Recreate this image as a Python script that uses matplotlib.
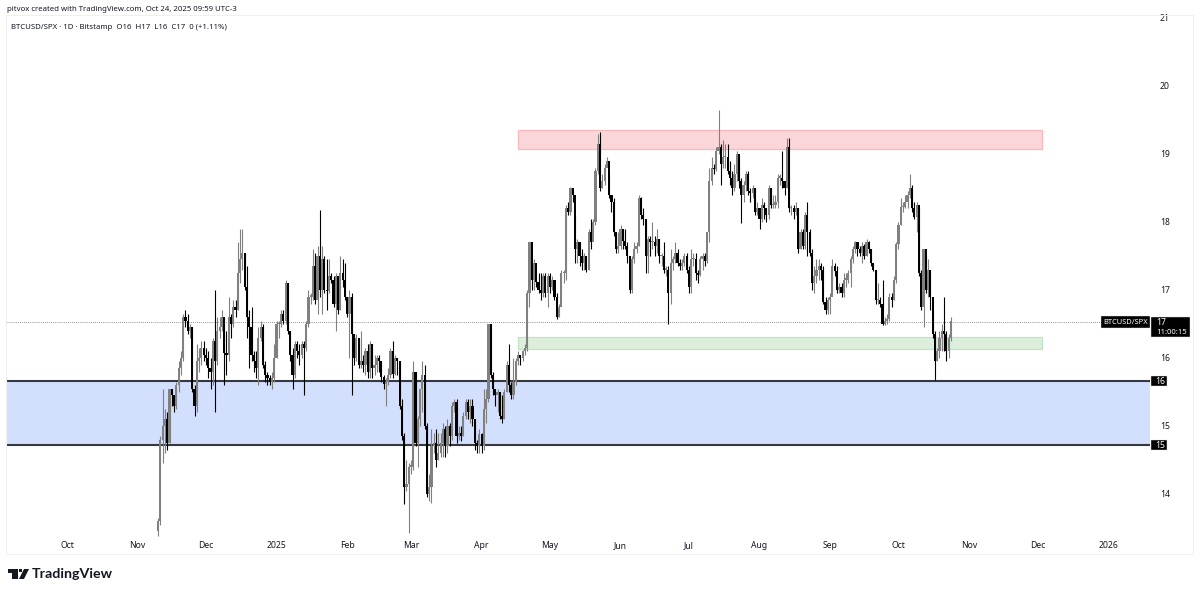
import matplotlib
matplotlib.use("Agg")
import matplotlib.pyplot as plt
import matplotlib.dates as mdates
from matplotlib.patches import Rectangle, Polygon
import pandas as pd

W, H = 1200, 594
START_DATE = "2024-11-10"
FIRST_OPEN = 13.45

closes = [
 13.6,14.8,15.0,15.1,14.75,15.55,15.45,15.3,15.6,15.85,
 16.0,16.6,16.55,16.4,16.45,15.55,15.3,15.95,16.0,16.15,
 16.05,16.0,15.85,15.8,16.25,15.95,16.4,16.45,16.6,16.08,16.05,
 16.6,16.5,16.75,16.7,17.25,17.45,17.55,17.05,16.6,16.45,
 16.05,15.95,15.85,16.3,16.45,15.9,15.75,15.7,15.65,15.7,
 16.0,16.5,16.5,16.65,16.55,17.1,16.4,16.05,15.75,16.2,
 16.1,16.05,16.2,16.15,16.5,16.9,16.9,17.35,16.85,17.5,
 17.0,17.45,17.0,16.98,17.2,17.15,16.8,17.2,16.7,17.25,
 17.15,16.9,16.65,16.9,16.35,16.0,16.3,15.9,15.95,15.9,
 16.1,15.8,16.2,15.85,15.9,16.0,15.95,15.72,15.62,15.65,15.75,
 16.1,15.77,16.0,15.95,15.3,14.85,14.1,14.15,14.4,14.4,
 15.8,14.75,15.1,15.55,15.75,15.0,14.0,14.1,14.7,14.75,
 14.5,14.6,14.75,14.95,14.7,15.0,14.85,15.3,15.35,14.85,14.9,
 14.85,15.15,15.35,15.2,15.3,15.1,14.75,14.7,14.88,14.7,
 15.25,15.4,16.5,15.75,15.55,15.45,15.5,15.15,15.1,15.5,
 15.9,15.6,15.45,15.65,15.95,16.05,16.0,16.1,16.15,16.95,
 17.7,17.15,17.4,17.12,17.0,16.95,17.2,16.95,17.2,17.05,
 17.15,16.9,16.6,16.75,17.25,17.25,18.2,18.15,18.5,18.4,
 17.6,17.7,17.5,17.4,17.5,17.3,17.85,17.7,18.0,18.75,
 19.15,18.5,18.6,18.8,18.9,18.4,18.3,17.85,17.6,17.65,
 17.9,17.72,17.65,17.5,17.0,17.45,17.6,17.65,18.35,18.1,
 18.05,17.5,17.75,17.7,17.7,17.65,17.75,17.5,17.5,17.3,17.3,
 16.95,17.4,17.45,17.55,17.4,17.35,17.4,17.5,17.3,17.05,
 17.45,17.45,17.25,17.22,17.45,17.5,17.42,17.85,18.6,18.8,
 18.78,19.05,19.1,18.85,18.95,18.95,18.75,18.65,18.5,18.7,
 19.0,18.6,18.4,18.55,18.7,18.45,18.42,18.5,18.15,18.2,
 18.05,18.25,18.2,18.1,18.5,18.25,18.25,18.3,18.65,18.65,18.6,
 18.5,19.1,18.2,18.2,18.15,18.2,17.6,17.85,17.65,18.1,
 17.85,17.55,17.1,17.2,17.3,17.35,17.3,16.83,16.7,16.85,16.9,
 17.35,17.28,17.0,17.05,16.95,17.15,17.15,17.25,17.45,17.6,
 17.7,17.6,17.55,17.65,17.5,17.7,17.6,17.4,17.3,16.85,
 16.85,16.8,16.5,16.55,16.58,16.9,16.85,17.15,17.68,17.95,
 18.22,18.22,18.3,18.4,18.5,18.2,18.08,18.25,17.25,16.75,17.6,
 17.0,17.3,16.9,16.35,15.95,16.1,16.3,16.4,16.35,16.1,
 16.3,16.55,
]
highs = [
 13.65,14.85,15.55,15.25,15.2,15.55,15.55,15.45,15.65,15.95,
 16.1,16.65,16.7,16.65,16.5,16.45,15.6,16.2,16.15,16.25,
 16.25,16.15,16.1,16.0,16.3,17.0,16.6,16.6,16.7,16.6,16.4,
 16.9,16.65,16.85,16.85,17.7,17.9,17.9,17.55,17.35,16.7,
 16.75,16.1,16.1,16.45,16.55,16.5,15.95,15.8,15.75,15.8,
 16.2,16.55,16.55,16.7,16.7,17.15,17.1,16.4,16.15,16.25,
 16.25,16.2,16.25,16.25,16.55,17.0,16.95,17.6,17.55,17.65,
 18.17,17.65,17.5,17.45,17.45,17.25,17.2,17.25,17.2,17.5,
 17.45,17.4,16.8,17.0,16.95,16.35,16.35,16.3,16.4,16.05,
 16.15,16.2,16.25,16.2,16.05,16.05,16.05,15.95,15.75,15.7,15.85,
 16.15,16.25,16.05,16.0,15.95,15.4,14.9,14.5,14.45,14.5,
 15.95,15.8,15.15,15.55,15.95,15.9,15.05,14.3,14.95,14.9,
 14.95,14.9,14.9,15.05,15.0,15.1,15.05,15.35,15.4,15.4,15.0,
 15.0,15.2,15.4,15.4,15.4,15.4,15.1,14.8,14.95,14.9,
 15.55,15.55,16.5,16.5,15.8,15.55,15.55,15.5,15.45,15.55,
 15.95,16.2,15.65,16.0,16.0,16.1,16.05,16.12,16.2,17.0,
 17.7,17.45,17.45,17.25,17.25,17.25,17.25,17.25,17.25,17.25,
 17.2,17.15,16.95,16.8,17.3,17.3,18.25,18.3,18.52,18.45,
 18.1,17.75,17.7,17.6,17.55,17.5,17.9,18.05,18.05,18.8,
 19.3,19.33,18.7,18.85,18.95,18.7,18.4,18.35,17.85,17.85,
 17.95,17.9,17.9,17.7,17.5,17.5,17.7,17.7,18.4,18.37,
 18.2,18.05,17.8,17.8,18.0,17.8,17.9,17.75,17.55,17.7,17.35,
 17.35,17.6,17.5,17.7,17.6,17.45,17.45,17.55,17.55,17.35,
 17.6,17.55,17.55,17.3,17.5,17.55,17.55,17.85,18.8,18.95,
 18.85,19.1,19.65,19.15,19.2,19.15,19.15,18.9,18.75,18.85,
 19.05,19.0,18.65,18.6,18.75,18.75,18.5,18.55,18.5,18.3,
 18.2,18.35,18.3,18.2,18.55,18.5,18.4,18.4,18.7,18.7,19.05,
 18.6,19.23,19.23,18.25,18.25,18.3,18.2,17.9,17.9,18.15,
 18.3,17.9,17.6,17.35,17.45,17.45,17.4,17.35,16.9,16.9,16.95,
 17.45,17.4,17.35,17.1,17.1,17.25,17.25,17.3,17.5,17.65,
 17.72,17.7,17.65,17.7,17.68,17.75,17.72,17.6,17.4,17.3,
 17.1,16.9,17.15,16.6,16.65,16.95,16.95,17.2,17.7,18.0,
 18.35,18.3,18.4,18.45,18.7,18.55,18.3,18.3,18.2,17.3,17.6,
 17.5,17.45,17.3,16.7,16.4,16.15,16.4,16.5,16.9,16.4,
 16.35,16.6,
]
lows = [
 13.38,13.55,14.45,14.6,14.65,14.75,15.3,15.2,15.25,15.5,
 15.75,15.95,16.45,16.35,16.3,15.5,15.15,15.2,15.8,15.9,
 15.95,15.9,15.7,15.55,15.6,15.2,15.9,16.3,16.4,15.6,15.75,
 15.95,16.3,16.45,16.6,16.7,17.1,17.3,17.0,16.3,15.85,
 15.95,15.8,15.7,15.6,16.25,15.85,15.65,15.6,15.6,15.55,
 15.65,16.0,16.3,16.45,16.5,16.5,16.35,15.95,15.55,15.7,
 16.0,15.9,16.0,15.45,16.1,16.45,16.8,16.85,16.8,16.65,
 16.9,16.65,16.95,16.7,16.95,17.1,16.75,16.4,16.65,16.7,
 17.05,16.85,16.6,16.0,15.45,15.9,15.95,15.85,15.85,15.8,
 15.75,15.7,15.7,15.7,15.75,15.8,15.8,15.65,15.55,15.3,15.6,
 15.7,15.7,15.75,15.75,15.25,14.8,13.85,14.05,13.42,14.3,
 14.35,14.7,14.4,15.0,15.2,14.95,13.95,13.9,13.87,14.6,
 14.4,14.5,14.55,14.55,14.55,14.6,14.7,14.8,15.2,14.75,14.8,
 14.78,14.85,15.1,15.1,15.05,15.0,14.65,14.6,14.6,14.6,
 14.65,15.05,15.35,15.7,15.45,15.3,15.2,15.1,15.05,15.1,
 15.5,15.5,15.4,15.4,15.6,15.9,15.9,15.95,16.05,16.1,
 16.75,17.0,17.0,17.05,16.95,16.85,16.9,16.9,16.75,16.95,
 17.0,16.85,16.58,16.6,16.85,17.1,17.15,18.1,18.1,18.3,
 17.4,17.4,17.35,17.3,17.3,17.27,17.3,17.6,17.75,17.95,
 18.7,18.45,18.5,18.55,18.85,18.35,18.15,17.8,17.55,17.55,
 17.6,17.6,17.6,17.4,16.95,16.95,17.4,17.55,17.65,18.05,
 17.95,17.25,17.25,17.5,17.6,17.5,17.55,17.4,17.35,17.25,17.2,
 16.5,16.8,17.3,17.4,17.35,17.3,17.3,17.35,17.25,16.95,
 16.95,17.35,17.15,17.1,17.2,17.3,17.35,17.4,17.7,18.55,
 18.7,18.75,19.0,18.55,18.8,18.8,18.7,18.55,18.4,18.45,
 18.6,18.5,17.98,18.3,18.45,18.4,18.3,18.35,18.1,18.1,
 17.9,18.0,18.05,18.0,18.05,18.2,18.2,18.2,18.2,18.55,18.5,
 18.4,18.5,18.15,18.1,18.05,18.1,17.55,17.6,17.6,17.6,
 17.5,17.5,17.0,16.95,17.1,17.15,17.15,16.8,16.65,16.65,16.65,
 17.0,17.2,16.95,16.95,16.9,16.9,17.05,17.1,17.05,17.4,
 17.55,17.5,17.5,17.4,17.45,17.5,17.55,17.35,17.28,16.8,
 16.8,16.75,16.48,16.48,16.5,16.55,16.75,16.85,17.1,17.6,
 17.95,18.15,18.2,18.2,18.35,18.15,18.05,17.85,17.2,16.7,16.45,
 16.95,16.9,16.7,16.3,15.67,15.95,16.0,16.1,16.1,15.95,
 16.0,16.25,
]

month_ticks = ["2024-10-01","2024-11-01","2024-12-01","2025-01-01","2025-02-01","2025-03-01",
               "2025-04-01","2025-05-01","2025-06-01","2025-07-01","2025-08-01","2025-09-01",
               "2025-10-01","2025-11-01","2025-12-01","2026-01-01"]
month_labels = ["Oct","Nov","Dec","2025","Feb","Mar","Apr","May","Jun","Jul","Aug","Sep","Oct","Nov","Dec","2026"]
price_ticks = [21,20,19,18,17,16,15,14]

red_zone = (19.07, 19.35)
green_zone = (16.13, 16.31)
zone_start, zone_end = "2025-04-17", "2025-12-03"
blue_zone = (14.72, 15.66)
last_price = 16.53

n = len(closes)
assert n == len(highs) == len(lows), (n, len(highs), len(lows))
dates = pd.date_range(START_DATE, periods=n, freq="D")
x = mdates.date2num(dates)
opens = [FIRST_OPEN] + closes[:-1]

FONT = ["Noto Sans", "DejaVu Sans"]
plt.rcParams["font.family"] = FONT
INK = "#131722"

fig = plt.figure(figsize=(W/100, H/100), dpi=100)
L, R, T, B = 7, 1150, 15, 537
ax = fig.add_axes([L/W, 1-B/H, (R-L)/W, (B-T)/H])
d0 = mdates.date2num(pd.Timestamp("2024-10-01"))
ax.set_xlim(d0 + (L-67)/2.278, d0 + (R-67)/2.278)
ax.set_ylim(17-(B-290)/68, 17+(290-T)/68)
for s in ax.spines.values():
    s.set_visible(False)
ax.set_xticks(mdates.date2num(pd.to_datetime(month_ticks)))
ax.set_xticklabels(month_labels, fontsize=6.2, color=INK)
ax.tick_params(axis="x", length=0, pad=3)
ax.yaxis.tick_right()
ax.set_yticks(price_ticks)
ax.set_yticklabels([str(v) for v in price_ticks], fontsize=6.2, color=INK)
ax.tick_params(axis="y", length=0, pad=7)
for lab in ax.get_yticklabels():
    lab.set_clip_on(False)

xz0, xz1 = mdates.date2num(pd.Timestamp(zone_start)), mdates.date2num(pd.Timestamp(zone_end))
ax.axhspan(blue_zone[0], blue_zone[1], color="#d2dffd", lw=0, zorder=1)
ax.axhline(blue_zone[0], color="#35383f", lw=1.5, zorder=2)
ax.axhline(blue_zone[1], color="#35383f", lw=1.5, zorder=2)
ax.add_patch(Rectangle((xz0, red_zone[0]), xz1-xz0, red_zone[1]-red_zone[0],
                       fc="#fbd6d9", ec="#f8b8bd", lw=0.9, zorder=2))
ax.add_patch(Rectangle((xz0, green_zone[0]), xz1-xz0, green_zone[1]-green_zone[0],
                       fc="#dbefdc", ec="#bfe3c4", lw=0.9, zorder=2))
ax.axhline(last_price, color="#6f6f6f", lw=0.6, ls=(0, (1, 1.5)), zorder=2)

up = "#808080"
down = "#000000"
cols = [up if c >= o else down for o, c in zip(opens, closes)]
ax.vlines(x, lows, highs, colors=cols, lw=0.8, zorder=3)
ax.bar(x, [abs(c-o) if abs(c-o) > 0.02 else 0.02 for o, c in zip(opens, closes)],
       bottom=[min(o, c) for o, c in zip(opens, closes)], width=0.95, color=cols, lw=0, zorder=4)

# overlay uses pixel-like figure coordinates
ov = fig.add_axes([0, 0, 1, 1], zorder=10)
ov.set_xlim(0, W); ov.set_ylim(H, 0); ov.axis("off"); ov.patch.set_alpha(0)

edge = "#eef0f5"
ov.add_patch(Rectangle((L-1, T), 1193-(L-1), 554-T, fill=False, ec=edge, lw=0.8))

def tag(x0, y0, x1, y1):
    ov.add_patch(Rectangle((x0, y0), x1-x0, y1-y0, fc="black", ec="#e8e8e8", lw=0.3, zorder=5))

tag(1101, 316, 1150, 328)
ov.text(1125.5, 322, "BTCUSD/SPX", fontsize=5.4, color="white", ha="center", va="center", zorder=6)
tag(1151, 317, 1190, 337)
ov.text(1156, 322.5, "17", fontsize=6.2, color="white", ha="left", va="center", zorder=6)
ov.text(1156, 332, "11:00:15", fontsize=5.5, color="white", ha="left", va="center", zorder=6)
tag(1151, 376, 1167, 386)
ov.text(1160, 381, "16", fontsize=6.2, color="white", ha="center", va="center", fontweight="bold", zorder=6)
tag(1151, 440, 1167, 450)
ov.text(1160, 445, "15", fontsize=6.2, color="white", ha="center", va="center", fontweight="bold", zorder=6)

ov.text(7, 9.5, "pitvox created with TradingView.com, Oct 24, 2025 09:59 UTC-3", fontsize=5.6, color=INK, ha="left", va="center")
ov.text(11, 27.5, "BTCUSD/SPX \u00b7 1D \u00b7 Bitstamp  O16  H17  L16  C17  0 (+1.11%)", fontsize=5.6, color=INK, ha="left", va="center")

# TradingView mark
ov.add_patch(Polygon([(8,569),(17.5,569),(17.5,579),(12,579),(12,572.5),(8,572.5)], fc=INK, lw=0))
ov.add_patch(Rectangle((19,569), 3.3, 3.3, fc=INK, lw=0))
ov.add_patch(Polygon([(24,569),(29,569),(24,579),(19,579)], fc=INK, lw=0))
ov.text(32, 574.5, "TradingView", fontsize=10.3, color=INK, ha="left", va="center", family=["Lato","DejaVu Sans"], fontweight="bold")

fig.savefig("out.png", dpi=100, facecolor="white")
